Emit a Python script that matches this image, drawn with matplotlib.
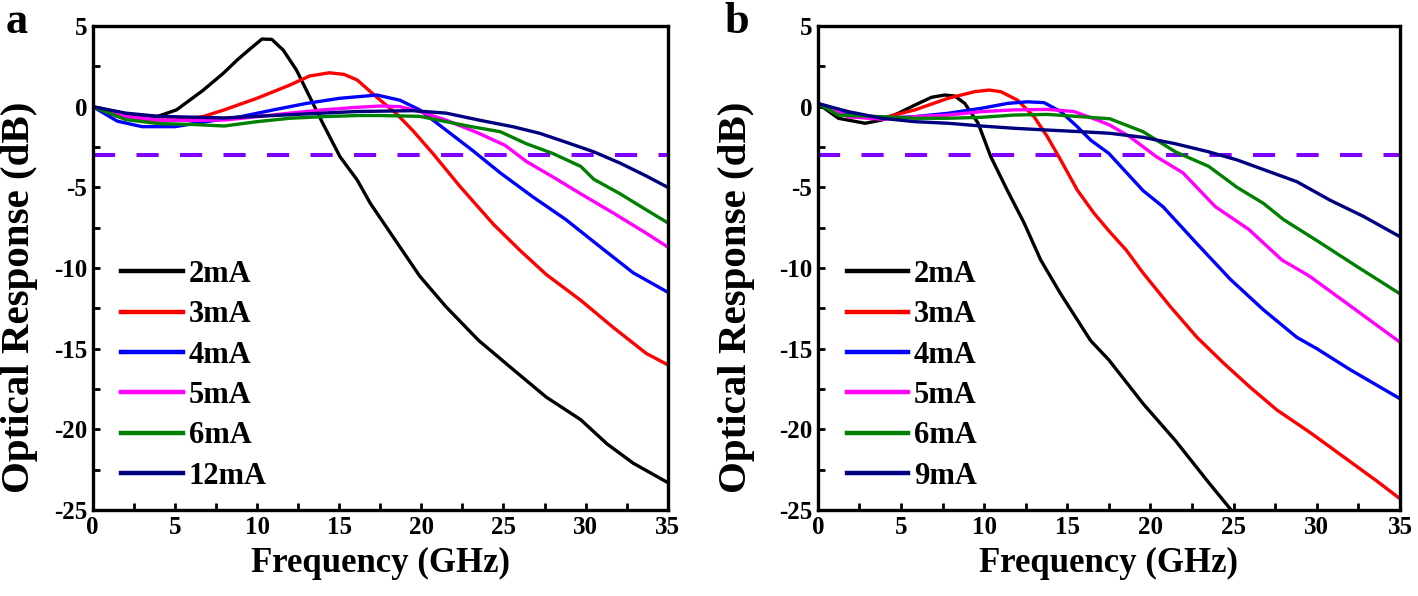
import numpy as np
import matplotlib
matplotlib.use('Agg')
import matplotlib.pyplot as plt

plt.rcParams['font.family'] = ['Liberation Serif', 'DejaVu Serif']
plt.rcParams['font.weight'] = 'bold'
plt.rcParams['axes.unicode_minus'] = False

# ---- panel a : frequency (GHz) / response (dB) ----
a_2mA_f = [0, 2.0, 3.9, 5.1, 5.9, 6.7, 7.95, 8.8, 9.6, 10.3, 10.9, 11.6, 12.4, 13.2, 14.0, 15.05,
           16.1, 16.9, 17.5, 18.7, 19.9, 21.5, 23.5, 25.6, 27.6, 29.7, 31.3, 32.9, 35.0]
a_2mA_db = [0, -0.45, -0.62, -0.2, 0.4, 1.0, 2.07, 2.9, 3.6, 4.19, 4.17, 3.5, 2.27, 0.62, -1.03, -3.1,
            -4.55, -6.0, -6.9, -8.7, -10.5, -12.4, -14.5, -16.3, -18.0, -19.4, -20.9, -22.1, -23.3]

a_3mA_f = [0, 1.5, 3.0, 5.0, 6.7, 8.0, 10.0, 12.0, 13.2, 14.4, 15.3, 16.1, 16.9, 17.5, 18.5, 19.5,
           20.7, 22.4, 24.4, 26.0, 27.6, 29.7, 31.7, 33.7, 35.0]
a_3mA_db = [0, -0.6, -0.83, -0.83, -0.62, -0.2, 0.52, 1.34, 1.9, 2.1, 2.0, 1.65, 0.93, 0.4, -0.45, -1.5,
            -2.9, -5.0, -7.3, -8.9, -10.4, -12.0, -13.7, -15.3, -16.0]

a_4mA_f = [0, 1.5, 3.0, 5.0, 6.9, 9.0, 11.0, 13.0, 15.05, 17.3, 18.7, 19.9, 21.5, 23.1, 24.8, 26.8,
           28.8, 30.9, 32.9, 35.0]
a_4mA_db = [0, -0.9, -1.24, -1.24, -0.93, -0.62, -0.2, 0.2, 0.52, 0.72, 0.4, -0.2, -1.45, -2.7, -4.1, -5.6,
            -7.0, -8.7, -10.3, -11.5]

a_5mA_f = [0, 2.0, 4.0, 6.0, 8.0, 10.0, 12.0, 14.0, 16.1, 17.5, 18.7, 19.9, 21.5, 23.5, 25.1, 26.4,
           28.0, 29.7, 31.7, 33.7, 35.0]
a_5mA_db = [0, -0.6, -0.83, -0.85, -0.83, -0.62, -0.4, -0.2, -0.04, 0.04, 0, -0.3, -0.83, -1.65, -2.4, -3.4,
            -4.35, -5.4, -6.6, -7.85, -8.7]

a_6mA_f = [0, 2.0, 4.0, 6.0, 8.0, 10.0, 12.0, 14.0, 16.1, 17.5, 19.9, 21.5, 23.1, 24.8, 26.4, 28.0,
           29.7, 30.5, 32.1, 33.7, 35.0]
a_6mA_db = [0, -0.8, -1.05, -1.1, -1.2, -0.93, -0.72, -0.62, -0.55, -0.55, -0.6, -0.93, -1.25, -1.55, -2.3, -2.9,
            -3.7, -4.5, -5.4, -6.4, -7.2]

a_12mA_f = [0, 2.0, 4.0, 6.0, 8.0, 10.0, 12.0, 14.0, 16.1, 17.5, 19.5, 21.5, 23.5, 25.6, 27.2, 28.8,
            30.5, 32.1, 33.7, 35.0]
a_12mA_db = [0, -0.4, -0.6, -0.65, -0.7, -0.6, -0.5, -0.4, -0.3, -0.28, -0.25, -0.4, -0.83, -1.25, -1.65, -2.2,
             -2.8, -3.5, -4.3, -5.0]

# ---- panel b ----
b_2mA_f = [0, 1.24, 2.84, 3.84, 4.84, 5.84, 6.84, 7.64, 8.24, 8.84, 9.64, 10.4, 11.4, 12.4, 13.4, 14.6,
           16.4, 17.5, 19.55, 21.5, 23.5, 24.85]
b_2mA_db = [0.2, -0.72, -1.03, -0.83, -0.41, 0.1, 0.58, 0.72, 0.66, 0.2, -1.03, -3.1, -5.2, -7.2, -9.5, -11.6,
            -14.5, -15.7, -18.4, -20.7, -23.3, -25.0]

b_3mA_f = [0, 1.84, 3.84, 5.84, 7.84, 9.44, 10.3, 11.0, 12.0, 13.0, 13.8, 14.6, 15.6, 16.6, 17.5, 18.55,
           19.55, 21.2, 22.8, 24.4, 26.0, 27.6, 29.6, 31.6, 33.6, 35.0]
b_3mA_db = [0.2, -0.62, -0.72, -0.2, 0.52, 0.93, 1.03, 0.93, 0.41, -0.62, -1.86, -3.3, -5.17, -6.6, -7.7, -8.9,
            -10.3, -12.4, -14.3, -15.9, -17.4, -18.8, -20.2, -21.7, -23.2, -24.3]

b_4mA_f = [0, 1.84, 3.84, 5.84, 7.84, 9.84, 11.4, 12.6, 13.6, 14.6, 15.6, 16.4, 17.5, 19.55, 20.75, 22.8,
           24.8, 26.8, 28.8, 30.0, 32.0, 35.0]
b_4mA_db = [0.2, -0.41, -0.72, -0.62, -0.41, -0.1, 0.2, 0.3, 0.25, -0.3, -1.24, -2.07, -2.9, -5.2, -6.2, -8.5,
            -10.7, -12.6, -14.3, -15.0, -16.3, -18.1]

b_5mA_f = [0, 1.84, 3.84, 5.84, 7.84, 9.84, 11.8, 13.8, 15.4, 16.8, 17.55, 18.75, 20.35, 21.95, 23.9, 25.9,
           27.9, 29.55, 31.55, 35.0]
b_5mA_db = [0.2, -0.62, -0.78, -0.62, -0.52, -0.31, -0.2, -0.17, -0.3, -0.83, -1.14, -1.86, -3.1, -4.1, -6.2, -7.6,
            -9.5, -10.5, -12.0, -14.6]

b_6mA_f = [0, 1.24, 3.84, 5.84, 7.84, 9.84, 11.8, 13.8, 15.8, 17.55, 19.55, 21.5, 23.5, 25.2, 26.8, 28.0,
           30.0, 32.4, 35.0]
b_6mA_db = [0.2, -0.52, -0.62, -0.72, -0.72, -0.66, -0.52, -0.48, -0.62, -0.75, -1.55, -2.8, -3.7, -5.0, -6.0, -7.0,
            -8.3, -9.9, -11.6]

b_9mA_f = [0, 1.84, 3.84, 5.84, 7.84, 9.84, 11.8, 13.8, 15.8, 17.55, 19.55, 21.5, 23.5, 25.2, 26.8, 28.8,
           30.8, 32.8, 35.0]
b_9mA_db = [0.2, -0.31, -0.72, -0.93, -1.03, -1.2, -1.34, -1.45, -1.55, -1.65, -1.9, -2.3, -2.8, -3.3, -3.9, -4.65,
            -5.8, -6.8, -8.06]

colors = ['black', '#ff0000', '#0000ff', '#ff00ff', '#008000', '#000080']
labels_a = ['2mA', '3mA', '4mA', '5mA', '6mA', '12mA']
labels_b = ['2mA', '3mA', '4mA', '5mA', '6mA', '9mA']
series_a = [(a_2mA_f, a_2mA_db), (a_3mA_f, a_3mA_db), (a_4mA_f, a_4mA_db),
            (a_5mA_f, a_5mA_db), (a_6mA_f, a_6mA_db), (a_12mA_f, a_12mA_db)]
series_b = [(b_2mA_f, b_2mA_db), (b_3mA_f, b_3mA_db), (b_4mA_f, b_4mA_db),
            (b_5mA_f, b_5mA_db), (b_6mA_f, b_6mA_db), (b_9mA_f, b_9mA_db)]
threshold_db = -3
x_range = [0, 35]

fig = plt.figure(figsize=(14.18, 5.96), dpi=100)
ax_a = fig.add_axes([0.0654, 0.1443, 0.4055, 0.8121])
ax_b = fig.add_axes([0.5767, 0.1443, 0.4106, 0.8121])


def draw_panel(ax, series, labels, ylab_x):
    for (f, db), c, lab in zip(series, colors, labels):
        ax.plot(f, db, color=c, lw=2.4, label=lab, solid_joinstyle='round')
    ax.plot(x_range, [threshold_db, threshold_db], color='#8000ff', lw=2.9,
            dashes=(5.5, 5.3), zorder=1)
    ax.set_xlim(0, 35)
    ax.set_ylim(-25, 5)
    ax.set_xticks(np.arange(0, 36, 5))
    ax.set_yticks(np.arange(-25, 6, 5))
    ax.set_xticks(np.arange(2.5, 35, 5), minor=True)
    ax.set_yticks(np.arange(-22.5, 5, 5), minor=True)
    ax.tick_params(which='both', direction='in', length=5, width=2, top=False, right=False,
                   labelsize=18, pad=4)
    for lbl in ax.get_xticklabels() + ax.get_yticklabels():
        lbl.set_fontweight('bold')
    for s in ax.spines.values():
        s.set_linewidth(2.4)
    ax.set_xlabel('Frequency (GHz)', fontsize=25, fontweight='bold', labelpad=6)
    ax.set_ylabel('Optical Response (dB)', fontsize=29.5, fontweight='bold')
    ax.yaxis.set_label_coords(ylab_x, 0.44)
    handles, labs = ax.get_legend_handles_labels()
    leg = ax.legend(handles[:6], labs[:6], loc='lower left', bbox_to_anchor=(0.05, 0.04),
                    frameon=False, fontsize=22, handlelength=2.0, handletextpad=0.2,
                    labelspacing=0.37, borderpad=0, borderaxespad=0)
    for line in leg.get_lines():
        line.set_linewidth(3.2)


draw_panel(ax_a, series_a, labels_a, -0.095)
draw_panel(ax_b, series_b, labels_b, -0.108)

fig.text(0.004, 0.945, 'a', fontsize=32, fontweight='bold', va='baseline', ha='left')
fig.text(0.511, 0.945, 'b', fontsize=32, fontweight='bold', va='baseline', ha='left')

fig.savefig('out.png', dpi=100)
